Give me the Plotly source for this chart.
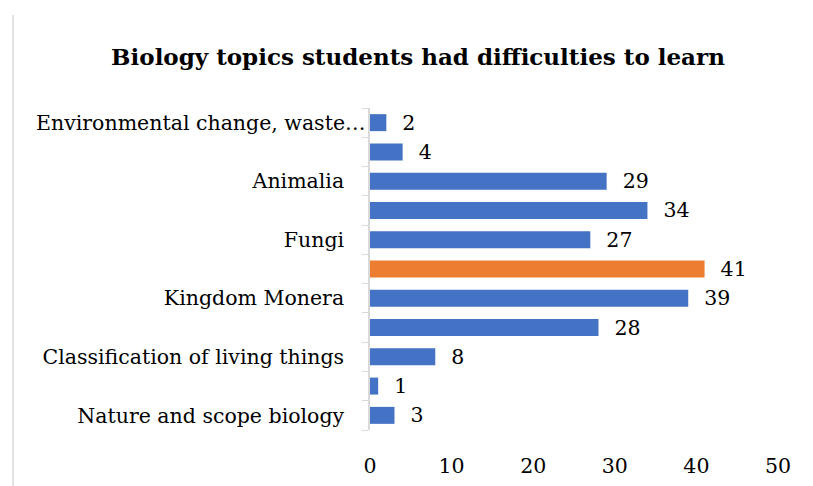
import plotly.graph_objects as go

# bottom to top
categories = [
    "Nature and scope biology",
    "Safety in the laboratory",
    "Classification of living things",
    "Viruses",
    "Kingdom Monera",
    "Kingdom Protoctista",
    "Fungi",
    "Plantae",
    "Animalia",
    "Cell biology",
    "Environmental change, waste…",
]
shown_labels = [
    "Nature and scope biology", "", "Classification of living things", "",
    "Kingdom Monera", "", "Fungi", "", "Animalia", "", "",
]
truncated_label = "Environmental change, waste…"
values = [3, 1, 8, 28, 39, 41, 27, 34, 29, 4, 2]
highlight = "Kingdom Protoctista"

BLUE = "#4472C4"
ORANGE = "#ED7D31"
colors = [ORANGE if c == highlight else BLUE for c in categories]
FONT = "DejaVu Serif"
FS = 20.5

# figure is drawn 8px in from page edge (body margin)
OFF = 8
L, R = 370 - OFF, 778 - OFF
T, B = 108 - OFF, 430 - OFF
W, H = 813, 486

fig = go.Figure(go.Bar(
    y=categories, x=values, orientation="h",
    marker=dict(color=colors, line=dict(width=0)),
    text=["\u00a0\u00a0" + str(v) for v in values], textposition="outside",
    constraintext="none",
    textfont=dict(family=FONT, size=FS, color="#000000"),
    cliponaxis=False, width=0.58,
))

fig.add_annotation(
    text=truncated_label, x=0, xref="paper", y=categories[-1], yref="y",
    xanchor="right", yanchor="middle", xshift=-2, showarrow=False,
    font=dict(family=FONT, size=FS, color="#000000"),
)

fig.update_layout(
    width=W, height=H,
    margin=dict(l=L, r=W - R, t=T, b=H - B, autoexpand=False),
    paper_bgcolor="white", plot_bgcolor="white",
    showlegend=False,
    title=dict(text="<b>Biology topics students had difficulties to learn</b>",
               font=dict(family=FONT, size=23, color="#000000"),
               x=(418 - OFF) / W, xref="container", xanchor="center",
               y=1 - (57 - OFF) / H, yref="container", yanchor="middle"),
    xaxis=dict(range=[0, 50], dtick=10, showgrid=False, zeroline=False,
               showline=False, ticks="outside", ticklen=17, tickcolor="rgba(0,0,0,0)",
               tickfont=dict(family=FONT, size=FS, color="#000000")),
    yaxis=dict(type="category", categoryorder="array", categoryarray=categories,
               tickvals=categories, ticktext=shown_labels,
               showgrid=False, zeroline=False, showline=True, linecolor="#d9d9d9",
               linewidth=1.5, ticks="outside", tickson="boundaries", ticklen=6,
               tickcolor="#d9d9d9", ticklabelstandoff=20,
               tickfont=dict(family=FONT, size=FS, color="#000000")),
    shapes=[dict(type="line", xref="paper", yref="paper",
                 x0=(13 - OFF - L) / (R - L), x1=(13 - OFF - L) / (R - L),
                 y0=(B - (15 - OFF)) / (B - T), y1=(B - 500) / (B - T),
                 line=dict(color="#d9d9d9", width=1.5))],
)

fig.write_html("out.html")
